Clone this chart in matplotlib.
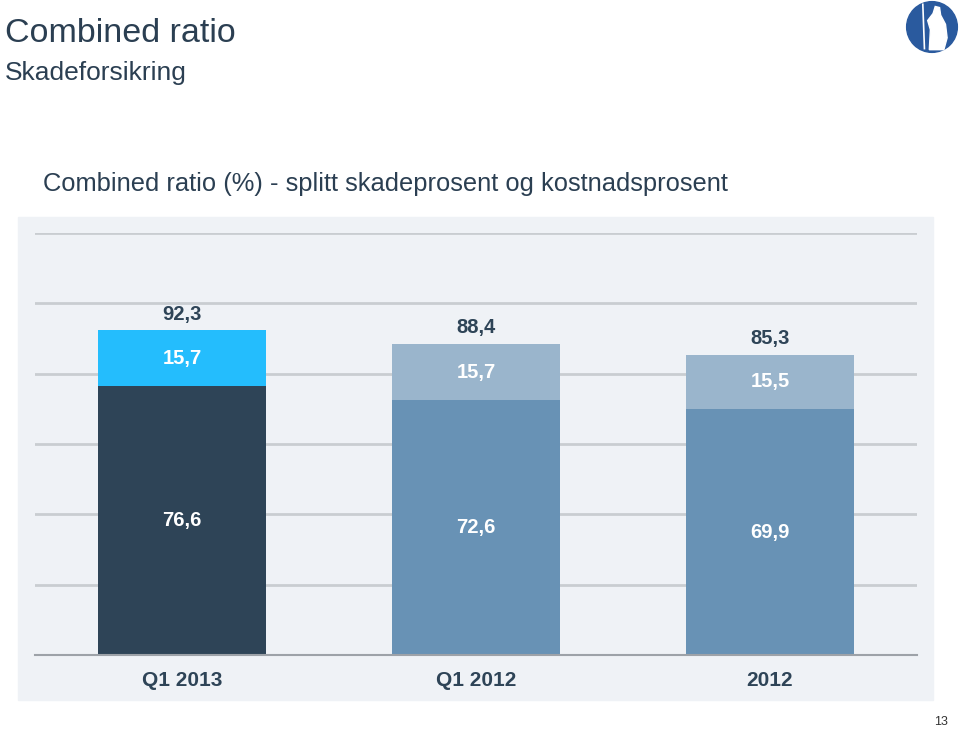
import matplotlib
matplotlib.use('Agg')
import matplotlib.pyplot as plt
from matplotlib.patches import Rectangle, Circle, Polygon

plt.rcParams['font.family'] = ['Liberation Sans', 'DejaVu Sans']

# data
categories = ['Q1 2013', 'Q1 2012', '2012']
skadeprosent = [76.6, 72.6, 69.9]
kostnadsprosent = [15.7, 15.7, 15.5]
combined = [92.3, 88.4, 85.3]

bottom_colors = ['#2E4457', '#6892B5', '#6892B5']
top_colors = ['#24BDFD', '#9AB5CC', '#9AB5CC']

navy = '#2E4457'
title_col = '#2B3F52'

fig = plt.figure(figsize=(9.6, 7.3), dpi=100)

# panel background
fig.patches.append(Rectangle((18/960, 1-700/730), 915/960, 483/730,
                             transform=fig.transFigure, color='#EFF2F6', zorder=-1))

ax = fig.add_axes([35/960, 1-655/730, 882/960, 422/730])
ax.set_facecolor('none')
x = range(len(categories))
ax.bar(x, skadeprosent, width=0.571, color=bottom_colors, zorder=3)
ax.bar(x, kostnadsprosent, width=0.571, bottom=skadeprosent, color=top_colors, zorder=3)

for i in x:
    ax.text(i, skadeprosent[i]/2, f'{skadeprosent[i]:.1f}'.replace('.', ','),
            ha='center', va='center', fontsize=14.5, fontweight='bold',
            color='white', zorder=4)
    ax.text(i, skadeprosent[i] + kostnadsprosent[i]/2,
            f'{kostnadsprosent[i]:.1f}'.replace('.', ','),
            ha='center', va='center', fontsize=14.5, fontweight='bold',
            color='white', zorder=4)
    ax.text(i, combined[i] + 4.6, f'{combined[i]:.1f}'.replace('.', ','),
            ha='center', va='center', fontsize=14.5, fontweight='bold',
            color=navy, zorder=4)

ax.set_xlim(-0.5, 2.5)
ax.set_ylim(0, 120)
ax.set_yticks(range(0, 121, 20))
ax.yaxis.grid(True, color='#C9CDD1', linewidth=2, zorder=1)
ax.set_axisbelow(True)
ax.tick_params(axis='y', left=False, labelleft=False)
ax.tick_params(axis='x', bottom=False, pad=8)
ax.set_xticks(list(x))
ax.set_xticklabels(categories, fontsize=15, fontweight='bold', color=navy)
for s in ['top', 'left', 'right']:
    ax.spines[s].set_visible(False)
ax.spines['bottom'].set_color('#9DA2A8')
ax.spines['bottom'].set_linewidth(1.5)
ax.spines['bottom'].set_zorder(5)

# titles
fig.text(5/960, 1-34/730, 'Combined ratio', fontsize=24.5, color=title_col,
         ha='left', va='center')
fig.text(5/960, 1-73/730, 'Skadeforsikring', fontsize=19, color=title_col,
         ha='left', va='center')
fig.text(43/960, 1-184/730, 'Combined ratio (%) - splitt skadeprosent og kostnadsprosent',
         fontsize=18.4, color=title_col, ha='left', va='center')
fig.text(948/960, 1-722/730, '13', fontsize=9, color='#333333',
         ha='right', va='center')

# logo
lax = fig.add_axes([905/960, 1-54/730, 54/960, 54/730])
lax.set_xlim(0, 1)
lax.set_ylim(0, 1)
lax.set_aspect('equal')
lax.axis('off')
lax.add_patch(Circle((0.5, 0.5), 0.47, color='#2A5A9E'))
lax.add_patch(Polygon([(0.45, 0.08), (0.47, 0.45), (0.42, 0.62), (0.52, 0.75),
                       (0.56, 0.88), (0.64, 0.86), (0.66, 0.72), (0.75, 0.55),
                       (0.78, 0.3), (0.72, 0.08)], color='white'))
lax.plot([0.33, 0.36], [0.92, 0.1], color='white', linewidth=1.2)

fig.savefig('out.png', dpi=100)
